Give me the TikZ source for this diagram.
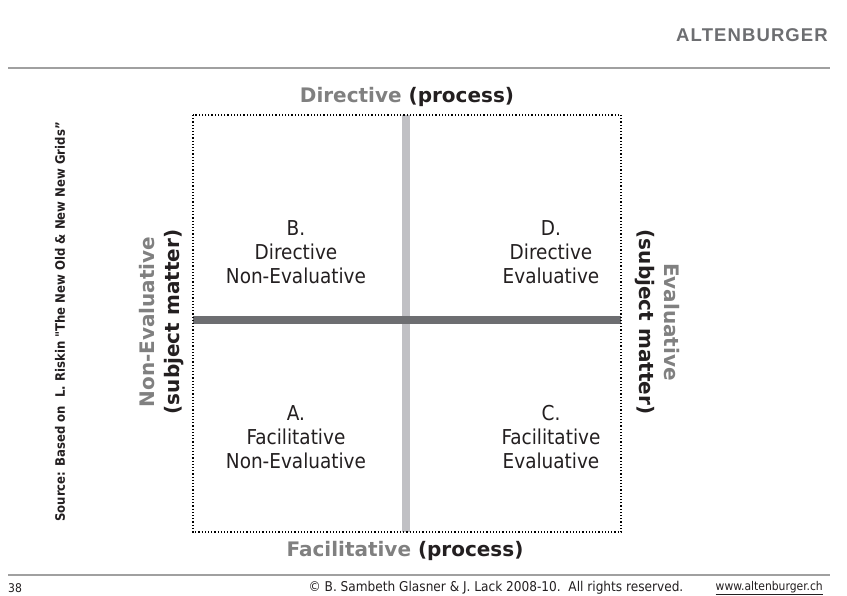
\documentclass[tikz,border=0pt]{standalone}
\usepackage{fontspec}
\setmainfont{Liberation Sans}
\newfontfamily\tah{DejaVu Sans Condensed}
\newfontfamily\tahb{DejaVu Sans}
\newfontfamily\brand[LetterSpace=6]{Liberation Sans}
\definecolor{lgray}{HTML}{C0C0C4}
\definecolor{dgray}{HTML}{6D6E71}
\definecolor{tgray}{HTML}{808080}
\definecolor{rule}{HTML}{A0A0A0}
\definecolor{txt}{HTML}{231F20}
\tikzset{
  quad/.style={align=center, font=\tah\fontsize{20.5}{24}\selectfont, text=txt, inner sep=0pt},
  axis/.style={font=\tahb\bfseries\fontsize{20}{25}\selectfont, text=txt, inner sep=0pt},
  small/.style={font=\tah\fontsize{12}{13}\selectfont, text=txt, inner sep=0pt},
}
\begin{document}
\begin{tikzpicture}[x=1pt,y=-1pt]
\useasboundingbox (0,0) rectangle (847,596);
\fill[white] (0,0) rectangle (847,596);
% header
\node[anchor=east, font=\brand\bfseries\fontsize{18.5}{20}\selectfont, text=dgray, inner sep=0pt] (brand) at (828,35) {ALTENBURGER};
\coordinate (r1a) at (8,68); \coordinate (r1b) at (830,68);
\draw[rule, line width=1.2] (r1a) -- (r1b);
\coordinate (r2a) at (8,575); \coordinate (r2b) at (830,575);
\draw[rule, line width=1.2] (r2a) -- (r2b);
% grid
\coordinate (tl) at (193,115); \coordinate (br) at (621,532);
\coordinate (vt) at (406,115); \coordinate (vb) at (406,532);
\coordinate (hl) at (193,320); \coordinate (hr) at (621,320);
\draw[lgray, line width=8] (vt) -- (vb);
\draw[dgray, line width=8] (hl) -- (hr);
\draw[black, line width=1.2, dotted] (tl) rectangle (br);
% quadrants
\node[quad] (B) at (296,252) {B.\\Directive\\Non-Evaluative};
\node[quad] (D) at (551,252) {D.\\Directive\\Evaluative};
\node[quad] (A) at (296,437) {A.\\Facilitative\\Non-Evaluative};
\node[quad] (C) at (551,437) {C.\\Facilitative\\Evaluative};
% axes titles
\node[axis] (top) at (407,97) {\textcolor{tgray}{Directive} (process)};
\node[axis] (bot) at (405,551) {\textcolor{tgray}{Facilitative} (process)};
\node[axis, rotate=90, align=center] (left) at (162,322) {\textcolor{tgray}{Non-Evaluative}\\(subject matter)};
\node[axis, rotate=-90, align=center] (right) at (657,322) {\textcolor{tgray}{Evaluative}\\(subject matter)};
% source
\node[rotate=90, font=\tah\bfseries\fontsize{13}{15}\selectfont, text=txt, inner sep=0pt] (src) at (60,322) {Source: Based on\ \ L. Riskin "The New Old \& New New Grids”};
% footer
\node[small, anchor=west] (pg) at (8,588) {38};
\node[small, font=\tah\fontsize{13.5}{15}\selectfont] (copy) at (496,588) {© B. Sambeth Glasner \& J. Lack 2008-10.\ \ All rights reserved.};
\node[small, anchor=east] (www) at (823,588) {\underline{www.altenburger.ch}};
\end{tikzpicture}
\end{document}
